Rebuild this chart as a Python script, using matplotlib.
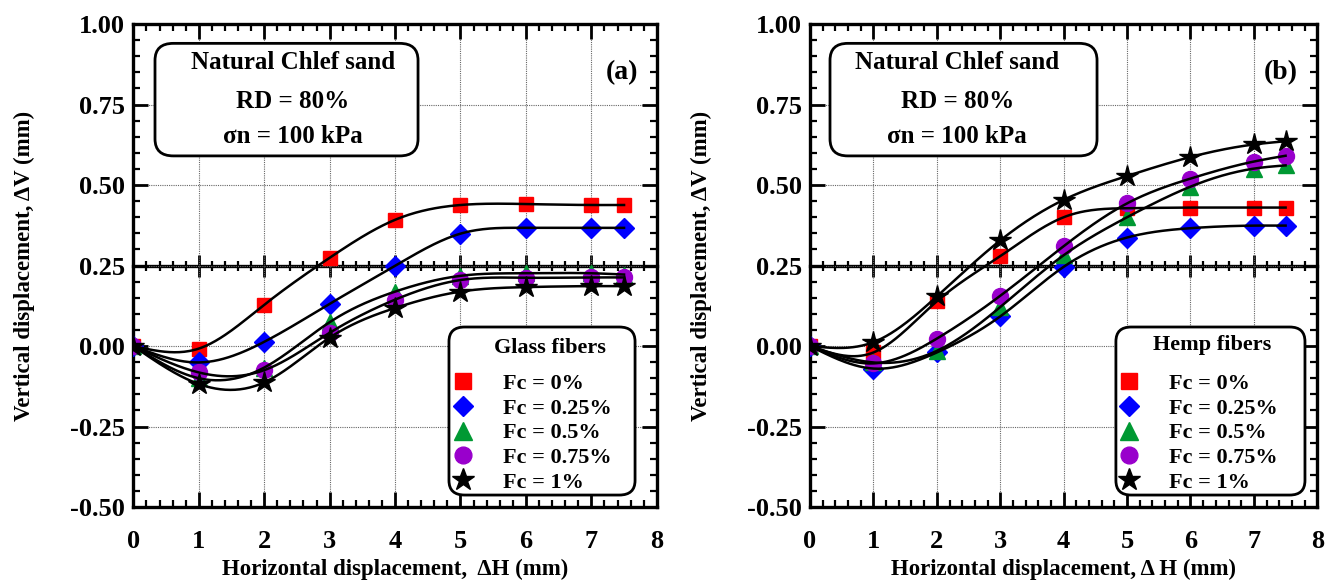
import numpy as np
import matplotlib
matplotlib.use("Agg")
import matplotlib.pyplot as plt
from matplotlib.lines import Line2D
from matplotlib.patches import FancyBboxPatch
from matplotlib.ticker import MultipleLocator, FormatStrFormatter

plt.rcParams['font.family'] = ['Liberation Serif', 'DejaVu Serif']
plt.rcParams['font.weight'] = 'bold'

# Horizontal displacement (mm)
dh = [0, 1, 2, 3, 4, 5, 6, 7, 7.5]

fc_labels = ["Fc = 0%", "Fc = 0.25%", "Fc = 0.5%", "Fc = 0.75%", "Fc = 1%"]

# Vertical displacement (mm) - glass fibers
glass_0 = [0.0, -0.008, 0.128, 0.274, 0.392, 0.438, 0.441, 0.438, 0.438]
glass_025 = [0.0, -0.051, 0.013, 0.131, 0.249, 0.349, 0.367, 0.367, 0.367]
glass_05 = [0.0, -0.100, -0.067, 0.074, 0.169, 0.218, 0.226, 0.226, 0.222]
glass_075 = [0.0, -0.082, -0.075, 0.041, 0.144, 0.205, 0.212, 0.213, 0.213]
glass_1 = [0.0, -0.118, -0.113, 0.026, 0.118, 0.169, 0.183, 0.186, 0.186]

# Vertical displacement (mm) - hemp fibers
hemp_0 = [0.0, -0.020, 0.139, 0.279, 0.400, 0.428, 0.430, 0.430, 0.430]
hemp_025 = [0.0, -0.070, -0.020, 0.092, 0.246, 0.337, 0.366, 0.374, 0.374]
hemp_05 = [0.0, -0.051, -0.015, 0.121, 0.282, 0.400, 0.495, 0.551, 0.561]
hemp_075 = [0.0, -0.054, 0.023, 0.156, 0.310, 0.443, 0.520, 0.573, 0.591]
hemp_1 = [0.0, 0.012, 0.154, 0.328, 0.454, 0.528, 0.587, 0.626, 0.636]

glass = [glass_0, glass_025, glass_05, glass_075, glass_1]
hemp = [hemp_0, hemp_025, hemp_05, hemp_075, hemp_1]

styles = [
    dict(marker='s', color='#ff0000', ms=10.5),
    dict(marker='D', color='#0000ff', ms=10),
    dict(marker='^', color='#009933', ms=12),
    dict(marker='o', color='#9900cc', ms=11.5),
    dict(marker='*', color='#000000', ms=16),
]


def natural_spline(x, y, xs):
    x = np.asarray(x, float)
    y = np.asarray(y, float)
    n = len(x)
    h = np.diff(x)
    A = np.zeros((n, n))
    r = np.zeros(n)
    A[0, 0] = A[-1, -1] = 1.0
    for i in range(1, n - 1):
        A[i, i - 1] = h[i - 1]
        A[i, i] = 2 * (h[i - 1] + h[i])
        A[i, i + 1] = h[i]
        r[i] = 6 * ((y[i + 1] - y[i]) / h[i] - (y[i] - y[i - 1]) / h[i - 1])
    m = np.linalg.solve(A, r)
    idx = np.clip(np.searchsorted(x, xs) - 1, 0, n - 2)
    x0, x1 = x[idx], x[idx + 1]
    hh = x1 - x0
    t0, t1 = x1 - xs, xs - x0
    return (m[idx] * t0 ** 3 / (6 * hh) + m[idx + 1] * t1 ** 3 / (6 * hh)
            + (y[idx] / hh - m[idx] * hh / 6) * t0
            + (y[idx + 1] / hh - m[idx + 1] * hh / 6) * t1)


def draw_panel(ax, series, tag, fiber, xlabel, box_x, text_cx, leg_box, leg_x, title_xy):
    ax.set_xlim(0, 8)
    ax.set_ylim(-0.5, 1.0)
    ax.xaxis.set_major_locator(MultipleLocator(1))
    ax.xaxis.set_minor_locator(MultipleLocator(0.2))
    ax.yaxis.set_major_locator(MultipleLocator(0.25))
    ax.yaxis.set_minor_locator(MultipleLocator(0.05))
    ax.yaxis.set_major_formatter(FormatStrFormatter('%.2f'))
    ax.tick_params(which='both', direction='in', top=True, right=True)
    ax.tick_params(which='major', length=11, width=2, labelsize=19, pad=6)
    ax.tick_params(axis='x', which='major', pad=16.5)
    ax.tick_params(which='minor', length=5, width=1.6)
    for s in ax.spines.values():
        s.set_linewidth(2.4)
    ax.grid(True, which='major', color='0.4', lw=0.8, ls=(0, (1, 1)))
    ax.set_axisbelow(True)

    # inner axis line at 0.25 mm
    mid = ax.secondary_xaxis(0.5)
    mid.xaxis.set_major_locator(MultipleLocator(1))
    mid.xaxis.set_minor_locator(MultipleLocator(0.2))
    mid.tick_params(which='both', direction='inout', labelbottom=False, labeltop=False)
    mid.tick_params(which='major', length=16, width=2)
    mid.tick_params(which='minor', length=7, width=1.6)
    for s in mid.spines.values():
        s.set_linewidth(2.4)

    xs = np.linspace(0, dh[-1], 300)
    handles = []
    for vals, st, lab in zip(series, styles, fc_labels):
        ax.plot(dh, vals, ls='none', marker=st['marker'], color=st['color'],
                ms=st['ms'], mec=st['color'], zorder=3)
        ax.plot(xs, natural_spline(dh, vals, xs), color='black', lw=1.8, zorder=4)
        handles.append(Line2D([], [], ls='none', marker=st['marker'], color=st['color'],
                              ms=st['ms'] * 1.05, mec=st['color'], label=lab))

    box = FancyBboxPatch((box_x[0], 0.727), box_x[1] - box_x[0], 0.96 - 0.727,
                         boxstyle='round,pad=0,rounding_size=0.035',
                         transform=ax.transAxes, fc='white', ec='black', lw=2, zorder=5)
    ax.add_patch(box)
    for yy, line in zip([0.921, 0.839, 0.767],
                        ["Natural Chlef sand", "RD = 80%", "σn = 100 kPa"]):
        ax.text(text_cx, yy, line, transform=ax.transAxes, ha='center', va='center',
                fontsize=18, fontweight='bold', zorder=6)
    ax.text(tag[1], 0.90, tag[0], transform=ax.transAxes, ha='center', va='center',
            fontsize=20, fontweight='bold', zorder=6)

    # legend frame and title
    lb = FancyBboxPatch((leg_box[0], leg_box[2]), leg_box[1] - leg_box[0],
                        leg_box[3] - leg_box[2],
                        boxstyle='round,pad=0,rounding_size=0.03',
                        transform=ax.transAxes, fc='white', ec='black', lw=2, zorder=6)
    ax.add_patch(lb)
    ax.text(title_xy[0], title_xy[1], fiber, transform=ax.transAxes, ha='center',
            va='center', fontsize=16, fontweight='bold', zorder=8)
    leg = ax.legend(handles=handles, loc='center left', bbox_to_anchor=(leg_x, 0.153),
                    borderaxespad=0, borderpad=0, frameon=False,
                    prop=dict(size=16, weight='bold'),
                    handlelength=1.0, handletextpad=1.3, labelspacing=0.19)
    leg.set_zorder(8)

    ax.set_xlabel(xlabel, fontsize=16.5, fontweight='bold', labelpad=4.5)
    ax.set_ylabel("Vertical displacement, ΔV (mm)", fontsize=16.5, fontweight='bold',
                  labelpad=25)


fig = plt.figure(figsize=(13.36, 5.85), dpi=100)
ax1 = fig.add_axes([0.0998, 0.1333, 0.3918, 0.8256])
ax2 = fig.add_axes([0.6063, 0.1333, 0.3797, 0.8256])

draw_panel(ax1, glass, ("(a)", 0.934), "Glass fibers",
           "Horizontal displacement,  ΔH (mm)", (0.0414, 0.5439), 0.305,
           (0.603, 0.9585, 0.0248, 0.3727), 0.609, (0.796, 0.329))
draw_panel(ax2, hemp, ("(b)", 0.928), "Hemp fibers",
           "Horizontal displacement, Δ H (mm)", (0.0394, 0.5658), 0.29,
           (0.603, 0.9757, 0.0248, 0.3727), 0.607, (0.792, 0.335))

fig.savefig("out.png", dpi=100)
